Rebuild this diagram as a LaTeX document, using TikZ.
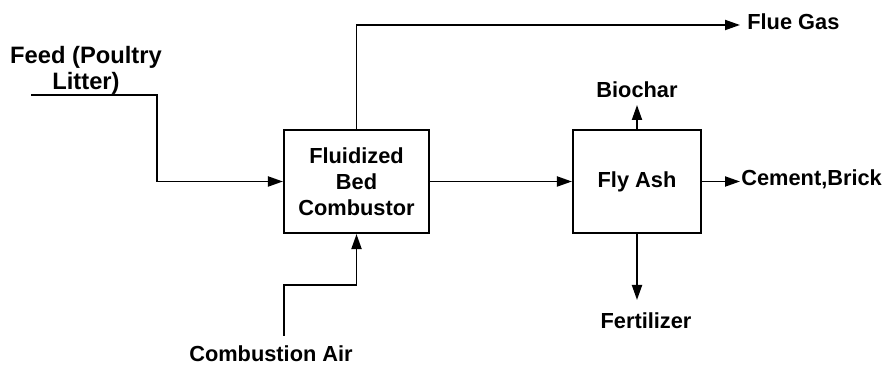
\documentclass[tikz,border=0pt]{standalone}
\usepackage{fontspec}
\setmainfont{Liberation Sans}
\usetikzlibrary{arrows.meta,positioning}

\begin{document}
\begin{tikzpicture}[
    unit/.style={draw, line width=1.2pt, minimum height=2.06cm, align=center,
                 font=\fontsize{12.4}{14.8}\selectfont\bfseries},
    lbl/.style={inner sep=0pt, text height=0.32cm, text depth=0.15cm,
                font=\fontsize{12.4}{14.8}\selectfont\bfseries},
    flow/.style={line width=1.1pt},
    arrow/.style={-{Triangle[length=0.3cm, width=0.2cm]}, line width=1.1pt},
  ]
  \useasboundingbox (0,0) rectangle (17.7,7.34);

  \node[unit, minimum width=2.9cm] (cb) at (7.13,3.71) {Fluidized\\Bed\\Combustor};
  \node[unit, minimum width=2.56cm] (fa) at (12.74,3.71) {Fly Ash};

  \coordinate (fin) at (0.62,5.44);
  \coordinate (fbend) at (3.14,5.44);
  \node[align=center, inner sep=0pt, font=\fontsize{13.5}{14.8}\selectfont\bfseries]
    (feed) at (1.72,5.94) {Feed (Poultry\\Litter)};

  \coordinate (ain) at (5.68,0.62);
  \coordinate (abend) at (5.68,1.64);
  \node[lbl, text depth=0pt, anchor=north] (air) at (5.42,0.44) {Combustion Air};

  \node[lbl, inner xsep=0.14cm, anchor=west] (flue) at (14.80,6.84) {Flue Gas};
  \node[lbl, inner xsep=0.02cm, anchor=west] (cem) at (14.80,3.71) {Cement,Brick};
  \node[lbl, anchor=south] (bio) at (12.74,5.24) {Biochar};
  \node[lbl, inner ysep=0.24cm, anchor=north] (fert) at (12.92,1.34) {Fertilizer};

  \draw[arrow] (fin) -- (fbend) |- (cb.west);
  \draw[arrow] (ain) -- (abend) -| (cb.south);
  \draw[arrow] (cb.north) |- (flue.west);
  \draw[arrow] (cb.east) -- (fa.west);
  \draw[arrow] (fa.north) -- (bio.south);
  \draw[arrow] (fa.south) -- (fa.south |- fert.north);
  \draw[arrow] (fa.east) -- (cem.west);
\end{tikzpicture}
\end{document}
